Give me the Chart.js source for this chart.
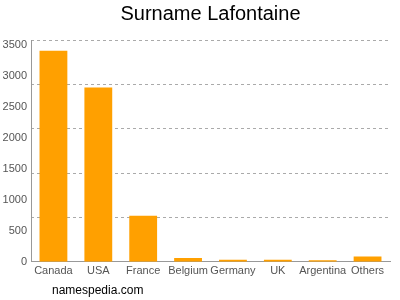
<!DOCTYPE html>
<html>
<head>
<meta charset="utf-8">
<script src="https://cdn.jsdelivr.net/npm/chart.js@4/dist/chart.umd.min.js"></script>
<style>
  html, body { margin: 0; padding: 0; background: #fff; }
  #wrap { position: relative; width: 400px; height: 300px; }
  #marca { position: absolute; left: 52px; top: 283px; font: 12px "Liberation Sans", Arial, sans-serif; color: #000; }
</style>
</head>
<body>
<div id="wrap">
  <canvas id="grafico" width="400" height="300"></canvas>
  <div id="marca">namespedia.com</div>
</div>
<script>
const paises = ['Canada', 'USA', 'France', 'Belgium', 'Germany', 'UK', 'Argentina', 'Others'];
const cantidades = [3407, 2814, 745, 60, 35, 35, 25, 86];
const ticksY = [0, 500, 1000, 1500, 2000, 2500, 3000, 3500];
const ejeMax = 3580;
const lineasGrilla = [716, 1432, 2148, 2864, 3580];

const fuente = '"Liberation Sans", Arial, sans-serif';

new Chart(document.getElementById('grafico'), {
  type: 'bar',
  data: {
    labels: paises,
    datasets: [{
      data: cantidades,
      backgroundColor: '#FFA000',
      borderWidth: 0,
      barPercentage: 0.62,
      categoryPercentage: 1
    }]
  },
  options: {
    responsive: false,
    animation: false,
    layout: { padding: { left: 0, right: 10, top: 0, bottom: 19 } },
    plugins: {
      legend: { display: false },
      tooltip: { enabled: false },
      title: {
        display: true,
        text: 'Surname Lafontaine',
        color: '#000',
        fullSize: false,
        font: { family: fuente, size: 20, weight: 'normal' },
        padding: { top: 2, bottom: 14 }
      }
    },
    scales: {
      x: {
        grid: { display: false, drawTicks: false },
        border: { color: '#999' },
        ticks: { color: '#555', font: { family: fuente, size: 11 }, maxRotation: 0, autoSkip: false, padding: 3 }
      },
      y: {
        min: 0,
        max: ejeMax,
        grid: { display: false, drawTicks: false },
        border: { color: '#999' },
        ticks: { color: '#555', font: { family: fuente, size: 11 }, padding: 4, callback: (v) => String(v) },
        afterBuildTicks: (s) => { s.ticks = ticksY.map(v => ({ value: v })); },
        afterFit: (s) => { s.width = 31; }
      },
      y2: {
        position: 'right',
        min: 0,
        max: ejeMax,
        border: { display: false, dash: [3, 3] },
        grid: { color: '#aaa', drawTicks: false },
        ticks: { display: false },
        afterBuildTicks: (s) => { s.ticks = lineasGrilla.map(v => ({ value: v })); },
        afterFit: (s) => { s.width = 0; }
      }
    }
  }
});
</script>
</body>
</html>
